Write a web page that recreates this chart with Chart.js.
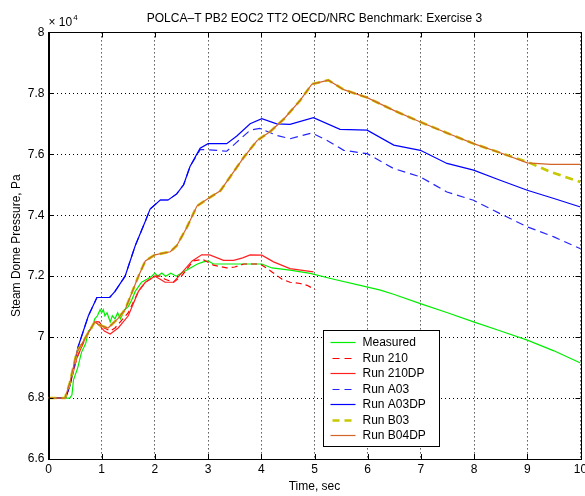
<!DOCTYPE html>
<html lang="en">
<head>
<meta charset="UTF-8">
<title>POLCA-T PB2 EOC2 TT2 - Exercise 3</title>
<script src="https://cdn.jsdelivr.net/npm/chart.js"></script>
<style>
    body { margin: 0; background: #fff; }
    #pressureChart { display: block; }
</style>
</head>
<body>
<canvas id="pressureChart" width="585" height="496"></canvas>
<script>
// time in seconds, steam dome pressure in units of 1e4 Pa
const measuredT = [0, 0.35, 0.4, 0.44, 0.47, 0.55, 0.62, 0.7, 0.75, 0.82, 0.87, 0.92, 0.97, 1.0, 1.03, 1.06, 1.1, 1.16, 1.2, 1.25, 1.3, 1.35, 1.38, 1.43, 1.5, 1.56, 1.63, 1.75, 1.85, 1.94, 2.0, 2.05, 2.13, 2.2, 2.3, 2.4, 2.5, 2.6, 2.7, 2.8, 2.91, 3.0, 3.1, 3.29, 3.5, 3.79, 4.01, 4.2, 4.54, 4.92, 5.36, 5.86, 6.24, 6.5, 6.99, 7.5, 7.99, 8.5, 9.0, 9.5, 10];
const measuredP = [6.8, 6.8, 6.8, 6.81, 6.86, 6.9, 6.95, 6.98, 7.02, 7.03, 7.06, 7.07, 7.09, 7.08, 7.09, 7.07, 7.08, 7.05, 7.07, 7.06, 7.08, 7.06, 7.07, 7.09, 7.1, 7.12, 7.15, 7.18, 7.19, 7.2, 7.21, 7.2, 7.21, 7.2, 7.21, 7.2, 7.21, 7.22, 7.23, 7.24, 7.247, 7.25, 7.24, 7.24, 7.24, 7.24, 7.24, 7.227, 7.22, 7.209, 7.19, 7.17, 7.154, 7.14, 7.11, 7.08, 7.05, 7.02, 6.99, 6.955, 6.915];

const run210T = [0, 0.32, 0.4, 0.53, 0.7, 0.87, 0.95, 1.05, 1.16, 1.25, 1.35, 1.5, 1.69, 1.82, 2.0, 2.1, 2.19, 2.35, 2.5, 2.72, 2.9, 3.1, 3.35, 3.5, 3.67, 3.98, 4.2, 4.39, 4.54, 4.73, 4.86, 5.01];
const run210P = [6.8, 6.8, 6.84, 6.93, 7.0, 7.05, 7.05, 7.03, 7.02, 7.03, 7.05, 7.08, 7.15, 7.18, 7.2, 7.2, 7.19, 7.18, 7.2, 7.25, 7.255, 7.236, 7.227, 7.23, 7.24, 7.24, 7.214, 7.19, 7.18, 7.176, 7.17, 7.156];

const run210dpT = [0, 0.32, 0.4, 0.53, 0.7, 0.87, 0.95, 1.05, 1.16, 1.31, 1.5, 1.69, 1.82, 2.0, 2.1, 2.19, 2.35, 2.5, 2.7, 2.88, 3.03, 3.29, 3.48, 3.65, 3.79, 4.01, 4.23, 4.54, 4.98];
const run210dpP = [6.8, 6.8, 6.84, 6.93, 7.0, 7.05, 7.04, 7.02, 7.01, 7.03, 7.07, 7.15, 7.18, 7.2, 7.19, 7.18, 7.18, 7.21, 7.25, 7.27, 7.27, 7.252, 7.252, 7.26, 7.27, 7.269, 7.247, 7.225, 7.214];

const runA03T = [0, 0.32, 0.4, 0.56, 0.75, 0.91, 1.03, 1.15, 1.25, 1.44, 1.63, 1.82, 1.91, 2.1, 2.25, 2.41, 2.54, 2.66, 2.85, 3.0, 3.35, 3.54, 3.79, 3.97, 4.29, 4.54, 4.95, 5.23, 5.55, 5.99, 6.49, 6.99, 7.49, 7.99, 8.49, 9.0, 9.5, 10];
const runA03P = [6.8, 6.8, 6.84, 6.97, 7.07, 7.13, 7.13, 7.13, 7.15, 7.2, 7.3, 7.38, 7.42, 7.45, 7.45, 7.47, 7.5, 7.56, 7.615, 7.615, 7.61, 7.64, 7.679, 7.685, 7.662, 7.651, 7.67, 7.646, 7.613, 7.602, 7.553, 7.526, 7.476, 7.449, 7.405, 7.362, 7.329, 7.29];

const runA03dpT = [0, 0.32, 0.4, 0.56, 0.75, 0.91, 1.03, 1.15, 1.25, 1.44, 1.63, 1.82, 1.91, 2.1, 2.25, 2.41, 2.54, 2.66, 2.85, 3.0, 3.35, 3.54, 3.79, 4.01, 4.29, 4.54, 4.98, 5.48, 5.99, 6.49, 6.99, 7.49, 7.99, 8.49, 9.0, 9.5, 10];
const runA03dpP = [6.8, 6.8, 6.84, 6.97, 7.07, 7.13, 7.13, 7.13, 7.15, 7.2, 7.3, 7.38, 7.42, 7.45, 7.45, 7.47, 7.5, 7.56, 7.62, 7.635, 7.635, 7.66, 7.7, 7.717, 7.7, 7.698, 7.72, 7.682, 7.679, 7.63, 7.613, 7.57, 7.548, 7.515, 7.482, 7.455, 7.427];

const runB03T = [0, 0.31, 0.4, 0.53, 0.7, 0.87, 0.95, 1.12, 1.3, 1.44, 1.69, 1.82, 2.0, 2.29, 2.41, 2.6, 2.79, 3.0, 3.23, 3.41, 3.67, 3.92, 4.17, 4.42, 4.73, 4.95, 5.11, 5.26, 5.55, 5.99, 6.49, 6.99, 7.49, 7.99, 8.49, 9.0, 9.44, 10];
const runB03P = [6.8, 6.8, 6.85, 6.95, 7.0, 7.05, 7.04, 7.03, 7.06, 7.09, 7.2, 7.25, 7.27, 7.28, 7.3, 7.36, 7.43, 7.455, 7.48, 7.525, 7.59, 7.645, 7.675, 7.715, 7.777, 7.83, 7.837, 7.843, 7.812, 7.786, 7.744, 7.706, 7.67, 7.635, 7.605, 7.575, 7.542, 7.509];

const runB04dpT = [0, 0.31, 0.4, 0.53, 0.7, 0.87, 0.95, 1.12, 1.3, 1.44, 1.69, 1.82, 2.0, 2.29, 2.41, 2.6, 2.79, 3.0, 3.23, 3.41, 3.67, 3.92, 4.17, 4.42, 4.73, 4.95, 5.11, 5.26, 5.55, 5.99, 6.49, 6.99, 7.49, 7.99, 8.49, 9.0, 9.44, 10];
const runB04dpP = [6.8, 6.8, 6.85, 6.95, 7.0, 7.05, 7.04, 7.03, 7.06, 7.09, 7.2, 7.25, 7.27, 7.28, 7.3, 7.36, 7.43, 7.455, 7.48, 7.525, 7.59, 7.645, 7.675, 7.715, 7.777, 7.83, 7.837, 7.843, 7.812, 7.786, 7.744, 7.706, 7.67, 7.635, 7.605, 7.572, 7.567, 7.567];

const xTicks = [0, 1, 2, 3, 4, 5, 6, 7, 8, 9, 10];
const yTicks = [6.6, 6.8, 7, 7.2, 7.4, 7.6, 7.8, 8];

const FONT = "'Liberation Sans', Arial, Helvetica, sans-serif";

function toPoints(ts, ps) {
    return ts.map((t, i) => ({ x: t, y: ps[i] }));
}

const series = [
    { label: 'Measured', t: measuredT, p: measuredP, color: '#00ee00', dash: [], width: 1.2 },
    { label: 'Run 210', t: run210T, p: run210P, color: '#ff0000', dash: [6, 4], width: 1.2 },
    { label: 'Run 210DP', t: run210dpT, p: run210dpP, color: '#ff2020', dash: [], width: 1.2 },
    { label: 'Run A03', t: runA03T, p: runA03P, color: '#2424ff', dash: [8, 5], width: 1.2 },
    { label: 'Run A03DP', t: runA03dpT, p: runA03dpP, color: '#0000ff', dash: [], width: 1.2 },
    { label: 'Run B03', t: runB03T, p: runB03P, color: '#c8c800', dash: [8, 5], width: 2.6 },
    { label: 'Run B04DP', t: runB04dpT, p: runB04dpP, color: '#d2642a', dash: [], width: 1.2 }
];

// axes box, inward tick marks and the exponent label
const axesBox = {
    id: 'axesBox',
    afterDatasetsDraw(chart) {
        const { ctx, chartArea: a, scales } = chart;
        ctx.save();
        ctx.strokeStyle = '#000';
        ctx.lineWidth = 1;
        ctx.setLineDash([]);
        ctx.strokeRect(Math.round(a.left) + 0.5, Math.round(a.top) + 0.5,
            Math.round(a.right - a.left), Math.round(a.bottom - a.top));
        const tl = 5;
        ctx.beginPath();
        xTicks.forEach(v => {
            const px = Math.round(scales.x.getPixelForValue(v)) + 0.5;
            ctx.moveTo(px, a.bottom); ctx.lineTo(px, a.bottom - tl);
            ctx.moveTo(px, a.top); ctx.lineTo(px, a.top + tl);
        });
        yTicks.forEach(v => {
            const py = Math.round(scales.y.getPixelForValue(v)) + 0.5;
            ctx.moveTo(a.left, py); ctx.lineTo(a.left + tl, py);
            ctx.moveTo(a.right, py); ctx.lineTo(a.right - tl, py);
        });
        ctx.stroke();

        ctx.fillStyle = '#000';
        ctx.textBaseline = 'alphabetic';
        ctx.textAlign = 'left';
        ctx.font = '12px ' + FONT;
        ctx.fillText('\u00d7 10', a.left, a.top - 6);
        const w = ctx.measureText('\u00d7 10').width;
        ctx.font = '8px ' + FONT;
        ctx.fillText('4', a.left + w + 1, a.top - 12);
        ctx.restore();
    }
};

// legend box in the lower middle of the axes
const legendBox = {
    id: 'legendBox',
    afterDraw(chart) {
        const ctx = chart.ctx;
        const bx = 323.5, by = 330.5, bw = 116, bh = 116;
        const rowH = 15.55, firstRow = by + 11.5;
        ctx.save();
        ctx.fillStyle = '#fff';
        ctx.fillRect(bx, by, bw, bh);
        ctx.strokeStyle = '#000';
        ctx.lineWidth = 1;
        ctx.strokeRect(bx, by, bw, bh);
        ctx.font = '12px ' + FONT;
        ctx.textBaseline = 'middle';
        ctx.textAlign = 'left';
        chart.data.datasets.forEach((ds, i) => {
            const y = Math.round(firstRow + i * rowH) + 0.5;
            ctx.strokeStyle = ds.borderColor;
            ctx.lineWidth = ds.borderWidth;
            ctx.setLineDash(ds.borderDash.length ? [7, 5] : []);
            ctx.lineDashOffset = ds.borderDash.length ? -2 : 0;
            ctx.beginPath();
            ctx.moveTo(bx + 7, y);
            ctx.lineTo(bx + 32, y);
            ctx.stroke();
            ctx.setLineDash([]);
            ctx.fillStyle = '#000';
            ctx.fillText(ds.label, bx + 39, y + 0.5);
        });
        ctx.restore();
    }
};

const gridStyle = {
    color: '#000',
    lineWidth: 1,
    drawTicks: false,
    tickLength: 0
};

new Chart(document.getElementById('pressureChart'), {
    type: 'line',
    data: {
        datasets: series.map((s, i) => ({
            label: s.label,
            data: toPoints(s.t, s.p),
            borderColor: s.color,
            backgroundColor: s.color,
            borderDash: s.dash,
            borderWidth: s.width,
            pointRadius: 0,
            tension: 0,
            fill: false,
            order: series.length - i
        }))
    },
    options: {
        responsive: false,
        animation: false,
        devicePixelRatio: 1,
        layout: { padding: { left: 0, right: 4.5, top: 0, bottom: 0 } },
        plugins: {
            legend: { display: false },
            tooltip: { enabled: false },
            title: {
                display: true,
                fullSize: false,
                text: 'POLCA\u2013T PB2 EOC2 TT2 OECD/NRC Benchmark: Exercise 3',
                color: '#000',
                font: { family: FONT, size: 12, weight: 'normal' },
                padding: { top: 11, bottom: 7 }
            }
        },
        scales: {
            x: {
                type: 'linear',
                min: 0,
                max: 10,
                afterBuildTicks: s => { s.ticks = xTicks.map(v => ({ value: v })); },
                afterFit: s => { s.height = 37; s.paddingRight = 0; s.paddingLeft = 0; },
                grid: { ...gridStyle },
                border: { display: true, color: '#000', dash: [1, 3] },
                ticks: {
                    color: '#000',
                    padding: 3,
                    maxRotation: 0,
                    autoSkip: false,
                    font: { family: FONT, size: 12 },
                    callback: v => String(v)
                },
                title: {
                    display: true,
                    text: 'Time, sec',
                    color: '#000',
                    font: { family: FONT, size: 12 },
                    padding: { top: 0, bottom: 2 }
                }
            },
            y: {
                type: 'linear',
                min: 6.6,
                max: 8,
                afterBuildTicks: s => { s.ticks = yTicks.map(v => ({ value: v })); },
                afterFit: s => { s.width = 48.5; s.paddingTop = 0; },
                grid: { ...gridStyle },
                border: { display: true, color: '#000', dash: [1, 3] },
                ticks: {
                    color: '#000',
                    padding: 4,
                    autoSkip: false,
                    font: { family: FONT, size: 12 },
                    callback: v => String(Number(v.toFixed(1)))
                },
                title: {
                    display: true,
                    text: 'Steam Dome Pressure, Pa',
                    color: '#000',
                    font: { family: FONT, size: 12 },
                    padding: { top: 9, bottom: 0 }
                }
            }
        }
    },
    plugins: [axesBox, legendBox]
});
</script>
</body>
</html>
